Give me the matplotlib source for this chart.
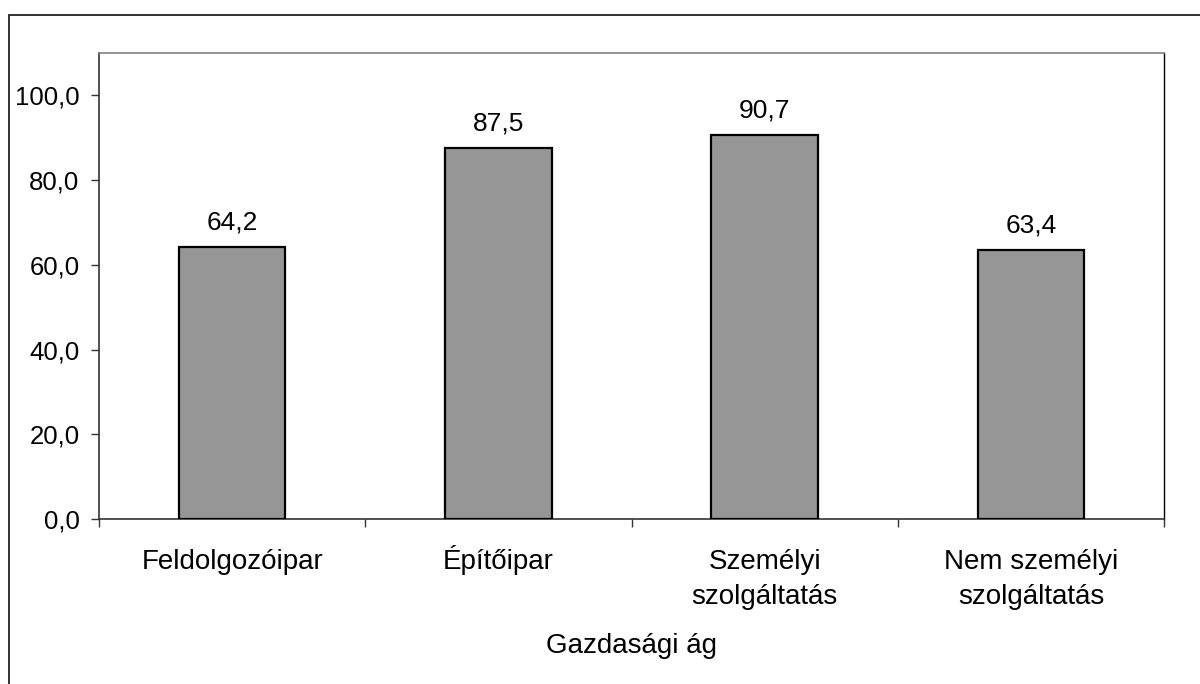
import matplotlib
matplotlib.use("Agg")
import matplotlib.pyplot as plt
from matplotlib.patches import Rectangle
import numpy as np

categories = ["Feldolgozóipar", "Építőipar", "Személyi\nszolgáltatás", "Nem személyi\nszolgáltatás"]
values = [64.2, 87.5, 90.7, 63.4]
yticks = [0, 20, 40, 60, 80, 100]
xlabel = "Gazdasági ág"

plt.rcParams['font.family'] = ['Liberation Sans', 'DejaVu Sans']
FS_CAT = 20
FS_TICK = 18.5
FS_VAL = 19

fig = plt.figure(figsize=(12, 6.84), dpi=100)
# outer frame (left and top visible)
fig.patches.append(Rectangle((9/1200, -0.1), 1.2, (684-15)/684 + 0.1, transform=fig.transFigure,
                             fill=False, edgecolor='#222222', linewidth=1.3, zorder=0))

ax_h_px = 519 - 53
ax = fig.add_axes([99/1200, (684-519)/684, 1065/1200, ax_h_px/684])
x = np.arange(len(categories))
ax.bar(x, values, width=0.4, color='#969696', edgecolor='black', linewidth=1.6, zorder=3)
for xi, v in zip(x, values):
    ax.annotate(f"{v:.1f}".replace('.', ','), (xi, v), xytext=(0, 9), textcoords='offset points',
                ha='center', va='bottom', fontsize=FS_VAL)

ax.set_xlim(-0.5, len(categories) - 0.5)
ax.set_ylim(0, 110)
ax.set_yticks(yticks)
ax.set_yticklabels([f"{t:.1f}".replace('.', ',') for t in yticks], fontsize=FS_TICK)
ax.tick_params(axis='y', direction='out', length=6, width=1, pad=8, color='#333333')

# category labels: each line placed on its own baseline
ax.set_xticks(x)
ax.set_xticklabels([])
ax.tick_params(axis='x', which='major', length=0)
baselines_px = [569, 604]
for xi, c in zip(x, categories):
    for li, line in enumerate(c.split("\n")):
        ax.text(xi, -(baselines_px[li] - 519) / ax_h_px, line, transform=ax.get_xaxis_transform(),
                ha='center', va='baseline', fontsize=FS_CAT, clip_on=False)
ax.set_xticks(np.arange(len(categories) + 1) - 0.5, minor=True)
ax.tick_params(axis='x', which='minor', direction='out', length=6, width=1, color='#333333')

ax.spines['top'].set_color('#808080')
ax.spines['top'].set_linewidth(1.2)
ax.spines['right'].set_color('black')
ax.spines['right'].set_linewidth(1.0)
ax.spines['left'].set_color('#333333')
ax.spines['left'].set_linewidth(1.2)
ax.spines['bottom'].set_color('#333333')
ax.spines['bottom'].set_linewidth(1.2)

fig.text(631/1200, 1 - 653/684, xlabel, ha='center', va='baseline', fontsize=FS_CAT)

fig.savefig("out.png", dpi=100)
